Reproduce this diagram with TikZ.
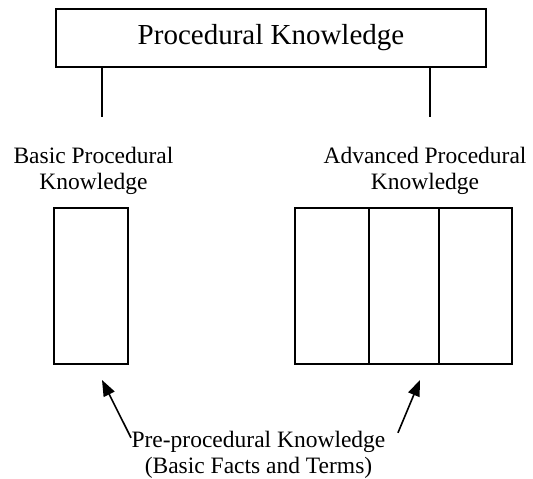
\documentclass[tikz,border=0pt]{standalone}
\usepackage{fontspec}
\setmainfont{Liberation Serif}
\usetikzlibrary{arrows.meta}
\begin{document}
\begin{tikzpicture}[x=1pt,y=-1pt,
  box/.style={draw,line width=1.6pt,inner sep=0pt},
  label/.style={align=center,font=\fontsize{23.5}{26}\selectfont},
  stem/.style={line width=1.6pt},
  pointer/.style={line width=1.6pt,-{Triangle[length=16pt,width=12pt]}}]
\useasboundingbox (0,0) rectangle (533,479);

% top box
\node[box,minimum width=430,minimum height=58,font=\fontsize{29}{34}\selectfont] (pk) at (271,38) {Procedural Knowledge};
\coordinate (stemL) at (102,117);
\coordinate (stemR) at (430,117);
\draw[stem] (pk.south -| stemL) -- (stemL);
\draw[stem] (pk.south -| stemR) -- (stemR);

% two kinds
\node[label] (basic) at (93.5,171) {Basic Procedural\\Knowledge};
\node[label] (adv) at (425,171) {Advanced Procedural\\Knowledge};

\node[box,minimum width=74,minimum height=156] (bpk) at (91,286) {};
\foreach \i/\x/\w in {1/332/74,2/404/70,3/475.5/73}
  \node[box,minimum width=\w,minimum height=156] (apk\i) at (\x,286) {};

% bottom
\node[label] (ppk) at (258.5,455) {Pre-procedural Knowledge\\(Basic Facts and Terms)};
\coordinate (tipL) at (102,380);
\coordinate (tipR) at (420,380);
\draw[pointer] ([shift={(3,10)}]ppk.north west) -- (tipL);
\draw[pointer] ([shift={(9,5)}]ppk.north east) -- (tipR);

\end{tikzpicture}
\end{document}
